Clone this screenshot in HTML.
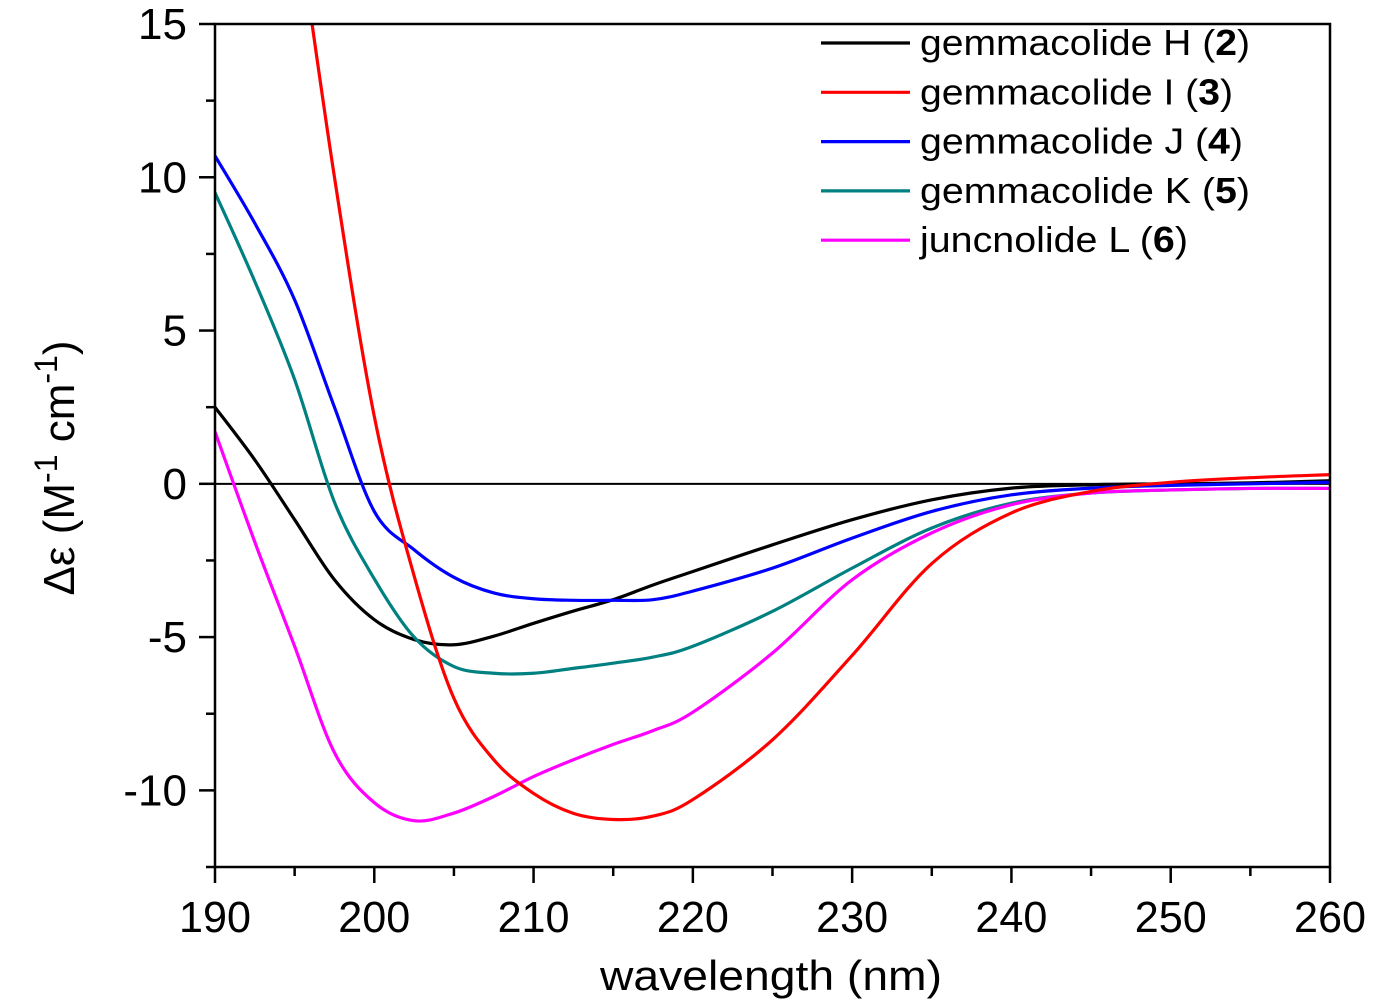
<!DOCTYPE html>
<html><head><meta charset="utf-8"><style>
html,body{margin:0;padding:0;background:#fff;}
svg{display:block;font-family:"Liberation Sans",Arial,sans-serif;}
</style></head><body>
<svg id="chart" width="1374" height="1000" viewBox="0 0 1374 1000" xmlns="http://www.w3.org/2000/svg">
<g id="plot"></g>
</svg>
<script>
const xTicks = [190,200,210,220,230,240,250,260];
const yTicks = [15,10,5,0,-5,-10];
const wavelengths = [190,192.5,195,197.5,200,202.5,205,207.5,210,212.5,215,217.5,220,225,230,235,240,245,250,255,260];
const seriesNames = ["gemmacolide H","gemmacolide I","gemmacolide J","gemmacolide K","juncnolide L"];
const seriesNums = ["2","3","4","5","6"];
const seriesColors = ["#000000","#ff0000","#0000ff","#008080","#ff00ff"];
const valsH = [2.5,0.78,-1.17,-3.13,-4.43,-5.08,-5.25,-4.97,-4.55,-4.15,-3.78,-3.3,-2.86,-1.99,-1.17,-0.52,-0.14,-0.03,0.0,0.03,0.1];
const valsI = [38,28,19,10,2.2,-3.0,-7.0,-9.0,-10.1,-10.75,-10.95,-10.84,-10.3,-8.35,-5.6,-2.6,-0.95,-0.25,0.05,0.2,0.3];
const valsJ = [10.7,8.5,6.0,2.5,-0.9,-2.15,-3.05,-3.56,-3.75,-3.8,-3.8,-3.78,-3.5,-2.75,-1.77,-0.9,-0.36,-0.14,-0.05,0.0,0.05];
const valsK = [9.5,6.6,3.4,-0.6,-3.1,-5.0,-5.96,-6.18,-6.18,-6.02,-5.85,-5.65,-5.3,-4.16,-2.75,-1.44,-0.63,-0.3,-0.2,-0.15,-0.15];
const valsL = [1.7,-1.9,-5.3,-8.77,-10.4,-10.99,-10.74,-10.2,-9.55,-9.0,-8.5,-8.05,-7.45,-5.52,-3.13,-1.6,-0.68,-0.3,-0.2,-0.15,-0.15];
const allVals = [valsH,valsI,valsJ,valsK,valsL];
const legendWidths = [330,313,323,330,268];

const L=215,R=1330,T=24,B=867, X0=190,X1=260,Y0=-12.5,Y1=15;
const xs=v=>L+(v-X0)/(X1-X0)*(R-L);
const ys=v=>T+(Y1-v)/(Y1-Y0)*(B-T);
const NS="http://www.w3.org/2000/svg";
const svg=document.getElementById('chart');
function mk(tag,attrs,parent){const e=document.createElementNS(NS,tag);for(const k in attrs)e.setAttribute(k,attrs[k]);(parent||svg).appendChild(e);return e;}

const defs=mk('defs',{});
const cp=mk('clipPath',{id:'clip'},defs);
mk('rect',{x:L,y:T,width:R-L,height:B-T},cp);

const zl=mk('line',{x1:L,x2:R,y1:ys(0),y2:ys(0),stroke:'#000','stroke-width':2});



function smoothPath(pts){
  let d=`M${pts[0][0]},${pts[0][1]}`;
  for(let i=0;i<pts.length-1;i++){
    const p0=pts[i-1]||pts[i],p1=pts[i],p2=pts[i+1],p3=pts[i+2]||p2;
    const c1=[p1[0]+(p2[0]-p0[0])/6,p1[1]+(p2[1]-p0[1])/6];
    const c2=[p2[0]-(p3[0]-p1[0])/6,p2[1]-(p3[1]-p1[1])/6];
    d+=` C${c1[0]},${c1[1]} ${c2[0]},${c2[1]} ${p2[0]},${p2[1]}`;
  }
  return d;
}
const g=mk('g',{'clip-path':'url(#clip)'});


const order=[0,2,3,4,1];
order.forEach(si=>{
  const pts=wavelengths.map((w,i)=>[xs(w),ys(allVals[si][i])]);
  const p=mk('path',{d:smoothPath(pts),fill:'none',stroke:seriesColors[si],'stroke-width':3.2,'stroke-linejoin':'round'},g);
  
  
});

const fr=mk('rect',{x:L,y:T,width:R-L,height:B-T,fill:'none',stroke:'#000','stroke-width':2.5});



xTicks.forEach((t,i)=>{
  mk('line',{x1:xs(t),x2:xs(t),y1:B,y2:B+16,stroke:'#000','stroke-width':2.5});
  if(i<xTicks.length-1) mk('line',{x1:xs(t+5),x2:xs(t+5),y1:B,y2:B+9,stroke:'#000','stroke-width':2.5});
  const tx=mk('text',{x:xs(t),y:932,'font-size':44,'text-anchor':'middle',fill:'#000',textLength:72,lengthAdjust:'spacingAndGlyphs'});
  tx.textContent=t;
  
  
});
yTicks.forEach((t,i)=>{
  mk('line',{x1:L-16,x2:L,y1:ys(t),y2:ys(t),stroke:'#000','stroke-width':2.5});
  mk('line',{x1:L-9,x2:L,y1:ys(t-2.5),y2:ys(t-2.5),stroke:'#000','stroke-width':2.5});
  const tx=mk('text',{x:187,y:ys(t)+15,'font-size':44,'text-anchor':'end',fill:'#000'});
  tx.textContent=t;
  
  
});

const xt=mk('text',{x:771,y:990,'font-size':42,'text-anchor':'middle',fill:'#000',textLength:342,lengthAdjust:'spacingAndGlyphs'});
xt.textContent='wavelength (nm)';


const yt=mk('text',{x:0,y:0,'font-size':44,'text-anchor':'middle',fill:'#000',transform:'translate(74,468) rotate(-90)'});
yt.innerHTML='Δε (M<tspan dy="-17" font-size="32">-1</tspan><tspan dy="17"> cm</tspan><tspan dy="-17" font-size="32">-1</tspan><tspan dy="17">)</tspan>';



seriesNames.forEach((n,i)=>{
  const y=43+i*49.3;
  const ln=mk('line',{x1:821,x2:910,y1:y,y2:y,stroke:seriesColors[i],'stroke-width':3.2});
  
  
  const tx=mk('text',{x:920,y:y+12,'font-size':36,fill:'#000',textLength:legendWidths[i],lengthAdjust:'spacingAndGlyphs'});
  tx.innerHTML=n+' (<tspan font-weight="bold">'+seriesNums[i]+'</tspan>)';
  
  
});
</script>
</body></html>
